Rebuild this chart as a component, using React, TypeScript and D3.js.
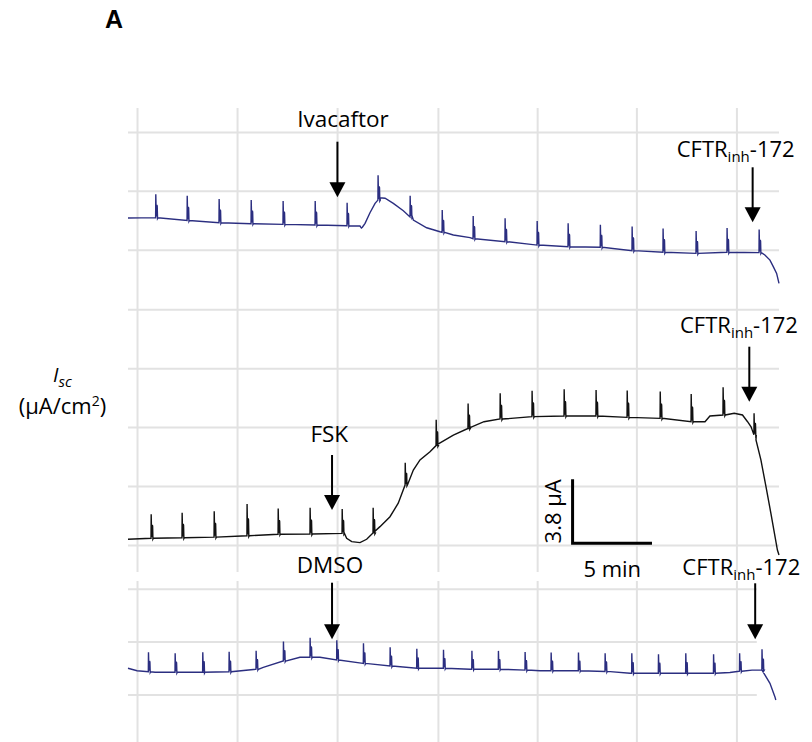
import React from "react";
import * as d3 from "d3";

// ---------- data (time in min, current in µA) ----------
const gridTimes = [0.6, 6.9, 13.2, 19.55, 25.8, 32.05, 38.35];
const topGrid = [0, 3.5, 7];
const midGrid = [0, 3.5, 7, 10.5, 14];
const botGrid = [0, 3.14, 6.28];

// Ivacaftor trace (top)
const topBase: [number, number][] = [
  [0, 1.92], [1.7, 1.94], [3.72, 1.77], [5.73, 1.64], [7.75, 1.58], [9.76, 1.54],
  [11.78, 1.5], [13.79, 1.46], [14.61, 1.44], [14.7, 1.32], [14.76, 1.37], [14.93, 1.6],
  [15.24, 2.23], [15.56, 2.79], [15.87, 3.12], [16.19, 3.09], [16.71, 2.79], [17.34, 2.35],
  [17.97, 1.8], [18.81, 1.34], [19.65, 1.1], [20.49, 0.91], [21.54, 0.75], [21.73, 0.69],
  [23.74, 0.51], [25.76, 0.31], [27.71, 0.21], [29.74, 0.18], [31.74, -0.02], [33.69, -0.12],
  [35.77, -0.18], [37.72, -0.12], [39.74, -0.14], [40.11, -0.28], [40.43, -0.58],
  [40.64, -0.97], [40.85, -1.37], [41.0, -1.96],
];
const topSpikeT = [1.74, 3.72, 5.73, 7.75, 9.76, 11.78, 13.79, 15.74, 17.76, 19.78, 21.73, 23.74, 25.76, 27.71, 29.74, 31.74, 33.69, 35.77, 37.72, 39.74];
const topSpikeH = [1.39, 1.47, 1.41, 1.41, 1.38, 1.43, 1.37, 1.48, 1.26, 1.32, 1.35, 1.39, 1.43, 1.39, 1.34, 1.43, 1.41, 1.32, 1.44, 1.38];

// FSK trace (middle)
const midBase: [number, number][] = [
  [0, 0.37], [1.45, 0.43], [3.4, 0.46], [5.42, 0.5], [7.49, 0.58], [9.45, 0.67],
  [11.46, 0.68], [13.48, 0.72], [13.77, 0.43], [14.09, 0.23], [14.61, 0.17], [15.03, 0.37],
  [15.45, 0.76], [15.87, 1.12], [16.5, 1.71], [17.02, 2.51], [17.45, 3.59], [17.97, 4.48],
  [18.39, 5.08], [19.02, 5.57], [19.44, 5.97], [20.49, 6.56], [21.43, 6.96], [22.42, 7.35],
  [23.43, 7.51], [25.44, 7.65], [27.46, 7.69], [29.47, 7.69], [31.43, 7.61], [33.51, 7.55],
  [35.46, 7.35], [36.34, 7.35], [36.65, 7.69], [37.47, 7.75], [38.18, 7.85], [38.7, 7.75],
  [39.02, 7.35], [39.24, 7.05], [39.42, 6.57], [39.55, 6.27], [39.86, 5.08], [40.18, 3.49],
  [40.49, 1.91], [40.9, -0.27], [41.0, -0.56],
];
const midSpikeT = [1.45, 3.4, 5.42, 7.49, 9.45, 11.46, 13.48, 15.43, 17.45, 19.4, 21.41, 23.43, 25.44, 27.46, 29.47, 31.43, 33.51, 35.46, 37.47, 39.42];
const midSpikeH = [1.43, 1.48, 1.53, 1.88, 1.52, 1.56, 1.44, 1.5, 1.32, 1.54, 1.48, 1.53, 1.54, 1.59, 1.54, 1.59, 1.59, 1.64, 1.64, 1.28];

// DMSO trace (bottom)
const botBase: [number, number][] = [
  [0, 1.59], [0.57, 1.44], [1.7, 1.35], [2.96, 1.35], [4.72, 1.35], [6.36, 1.38],
  [8.06, 1.53], [8.52, 1.64], [9.78, 2.02], [10.83, 2.24], [12.09, 2.24], [13.14, 2.08],
  [14.8, 1.88], [16.5, 1.72], [18.2, 1.59], [19.84, 1.59], [21.54, 1.53], [23.3, 1.53],
  [25.0, 1.48], [25.95, 1.44], [28.34, 1.44], [30.04, 1.4], [31.62, 1.29], [33.38, 1.29],
  [35.14, 1.29], [36.84, 1.29], [37.91, 1.34], [38.48, 1.41], [39.3, 1.48], [39.93, 1.48],
  [40.11, 1.19], [40.43, 0.69], [40.74, -0.1], [40.8, -0.3],
];
const botSpikeT = [1.28, 2.96, 4.7, 6.36, 8.06, 9.78, 11.46, 13.14, 14.82, 16.5, 18.18, 19.86, 21.65, 23.32, 25.0, 26.64, 28.36, 30.04, 31.72, 33.4, 35.12, 36.87, 38.51, 39.92];
const botSpikeH = [1.15, 1.13, 1.19, 1.19, 1.09, 1.15, 1.16, 1.17, 1.19, 1.11, 1.15, 1.09, 1.09, 1.09, 1.07, 1.09, 1.09, 1.08, 1.19, 1.13, 1.19, 1.13, 1.07, 1.23];

const eventLabels = ["Ivacaftor", "FSK", "DMSO"];
const eventTimes = [13.19, 12.85, 12.85];
const inhibitorTimes = [39.34, 39.13, 39.5];

const scaleBarTime = 5; // min
const scaleBarCurrent = 3.8; // µA

// ---------- layout ----------
const W = 812, H = 742;
const PX_PER_UA = 16.84;
const x = d3.scaleLinear().domain([0, 41]).range([128, 779]);
const yTop = d3.scaleLinear().domain([0, 1]).range([250.3, 250.3 - PX_PER_UA]);
const yMid = d3.scaleLinear().domain([0, 1]).range([545.5, 545.5 - PX_PER_UA]);
const yBot = d3.scaleLinear().domain([0, 1]).range([695, 695 - PX_PER_UA]);

type Pt = { t: number; v: number };
function buildTrace(base: [number, number][], spT: number[], spH: number[]): Pt[] {
  const interp = d3.scaleLinear().domain(base.map((d) => d[0])).range(base.map((d) => d[1]));
  const groups: { key: number; pts: Pt[] }[] = base.map((d) => ({ key: d[0], pts: [{ t: d[0], v: d[1] }] }));
  spT.forEach((t, i) => {
    const b = interp(t);
    const h = spH[i];
    groups.push({
      key: t,
      pts: [
        { t: t, v: b },
        { t: t + 0.01, v: b + h },
        { t: t + 0.04, v: b + 0.05 * h },
        { t: t + 0.08, v: b + 0.55 * h },
        { t: t + 0.1, v: b + 0.5 * h },
        { t: t + 0.12, v: b - 0.05 },
        { t: t + 0.15, v: b },
      ],
    });
  });
  groups.sort((a, b) => a.key - b.key);
  return groups.flatMap((g) => g.pts);
}

const NAVY = "#2b2e80";
const GRID = "#e2e2e2";
const FONT = "'Open Sans', 'Noto Sans', sans-serif";

function Trace({ data, y, color }: { data: Pt[]; y: d3.ScaleLinear<number, number>; color: string }) {
  const line = d3.line<Pt>().x((d) => x(d.t)).y((d) => y(d.v));
  return <path d={line(data) || ""} fill="none" stroke={color} strokeWidth={1.4} strokeLinejoin="miter" />;
}

function Arrow({ xp, y0, y1 }: { xp: number; y0: number; y1: number }) {
  const hh = 15, hw = 8;
  return (
    <g>
      <line x1={xp} x2={xp} y1={y0} y2={y1 - hh + 1} stroke="#000" strokeWidth={2} />
      <path d={`M${xp - hw},${y1 - hh} L${xp + hw},${y1 - hh} L${xp},${y1} Z`} fill="#000" />
    </g>
  );
}

function CftrLabel({ xs, yb }: { xs: number; yb: number }) {
  return (
    <text x={xs} y={yb} fontFamily={FONT} fontSize={22} fill="#000">
      CFTR
      <tspan fontSize={15} dy={5}>inh</tspan>
      <tspan dy={-5}>-172</tspan>
    </text>
  );
}

export default function App() {
  const topData = buildTrace(topBase, topSpikeT, topSpikeH);
  const midData = buildTrace(midBase, midSpikeT, midSpikeH);
  const botData = buildTrace(botBase, botSpikeT, botSpikeH);

  const sbT0 = 28, sbV0 = 0.13;

  return (
    <svg width={W} height={H} style={{ position: "absolute", left: 0, top: 0, background: "#fff" }}>
      <rect width={W} height={H} fill="#fff" />
      {/* grid */}
      <g stroke={GRID} strokeWidth={2}>
        {gridTimes.map((t, i) => (
          <line key={"vt" + i} x1={x(t)} x2={x(t)} y1={108} y2={572} />
        ))}
        {gridTimes.map((t, i) => (
          <line key={"vb" + i} x1={x(t)} x2={x(t)} y1={581} y2={742} />
        ))}
        {topGrid.map((v, i) => (
          <line key={"ht" + i} x1={x(0)} x2={x(41)} y1={yTop(v)} y2={yTop(v)} />
        ))}
        {midGrid.map((v, i) => (
          <line key={"hm" + i} x1={x(0)} x2={x(41)} y1={yMid(v)} y2={yMid(v)} />
        ))}
        {botGrid.map((v, i) => (
          <line key={"hb" + i} x1={x(0)} x2={x(39.6)} y1={yBot(v)} y2={yBot(v)} />
        ))}
      </g>

      {/* traces */}
      <Trace data={topData} y={yTop} color={NAVY} />
      <Trace data={midData} y={yMid} color="#111" />
      <Trace data={botData} y={yBot} color={NAVY} />

      {/* scale bar */}
      <path
        d={`M${x(sbT0)},${yMid(sbV0 + scaleBarCurrent)} L${x(sbT0)},${yMid(sbV0)} L${x(sbT0 + scaleBarTime)},${yMid(sbV0)}`}
        fill="none"
        stroke="#000"
        strokeWidth={3}
      />
      <text
        transform={`translate(${561},${yMid(sbV0 + scaleBarCurrent / 2)}) rotate(-90)`}
        textAnchor="middle"
        fontFamily={FONT}
        fontSize={22}
      >
        {`${scaleBarCurrent} µA`}
      </text>
      <text x={x(sbT0 + scaleBarTime / 2)} y={577} textAnchor="middle" fontFamily={FONT} fontSize={22}>
        {`${scaleBarTime} min`}
      </text>

      {/* event annotations */}
      <text x={343} y={126.7} textAnchor="middle" fontFamily={FONT} fontSize={22.5}>{eventLabels[0]}</text>
      <Arrow xp={x(eventTimes[0])} y0={141.7} y1={197.3} />
      <text x={329.3} y={441.7} textAnchor="middle" fontFamily={FONT} fontSize={22.5}>{eventLabels[1]}</text>
      <Arrow xp={x(eventTimes[1])} y0={455} y1={510} />
      <text x={330} y={572.5} textAnchor="middle" fontFamily={FONT} fontSize={22.5}>{eventLabels[2]}</text>
      <Arrow xp={x(eventTimes[2])} y0={582.7} y1={639.3} />

      <CftrLabel xs={676.7} yb={156.7} />
      <Arrow xp={x(inhibitorTimes[0])} y0={167.3} y1={222.3} />
      <CftrLabel xs={680} yb={333.3} />
      <Arrow xp={x(inhibitorTimes[1])} y0={346.7} y1={401.7} />
      <CftrLabel xs={682.3} yb={575} />
      <Arrow xp={x(inhibitorTimes[2])} y0={583.3} y1={639.3} />

      {/* y label */}
      <text x={53} y={382} fontFamily={FONT} fontSize={20} fontStyle="italic">
        I<tspan fontSize={15} dy={5}>sc</tspan>
      </text>
      <text x={62.5} y={414} textAnchor="middle" fontFamily={FONT} fontSize={22}>
        (µA/cm<tspan fontSize={14} dy={-8}>2</tspan><tspan dy={8}>)</tspan>
      </text>

      {/* panel letter */}
      <text x={105} y={28} fontFamily="'Liberation Sans', Arial, sans-serif" fontWeight="bold" fontSize={25}>A</text>
    </svg>
  );
}
